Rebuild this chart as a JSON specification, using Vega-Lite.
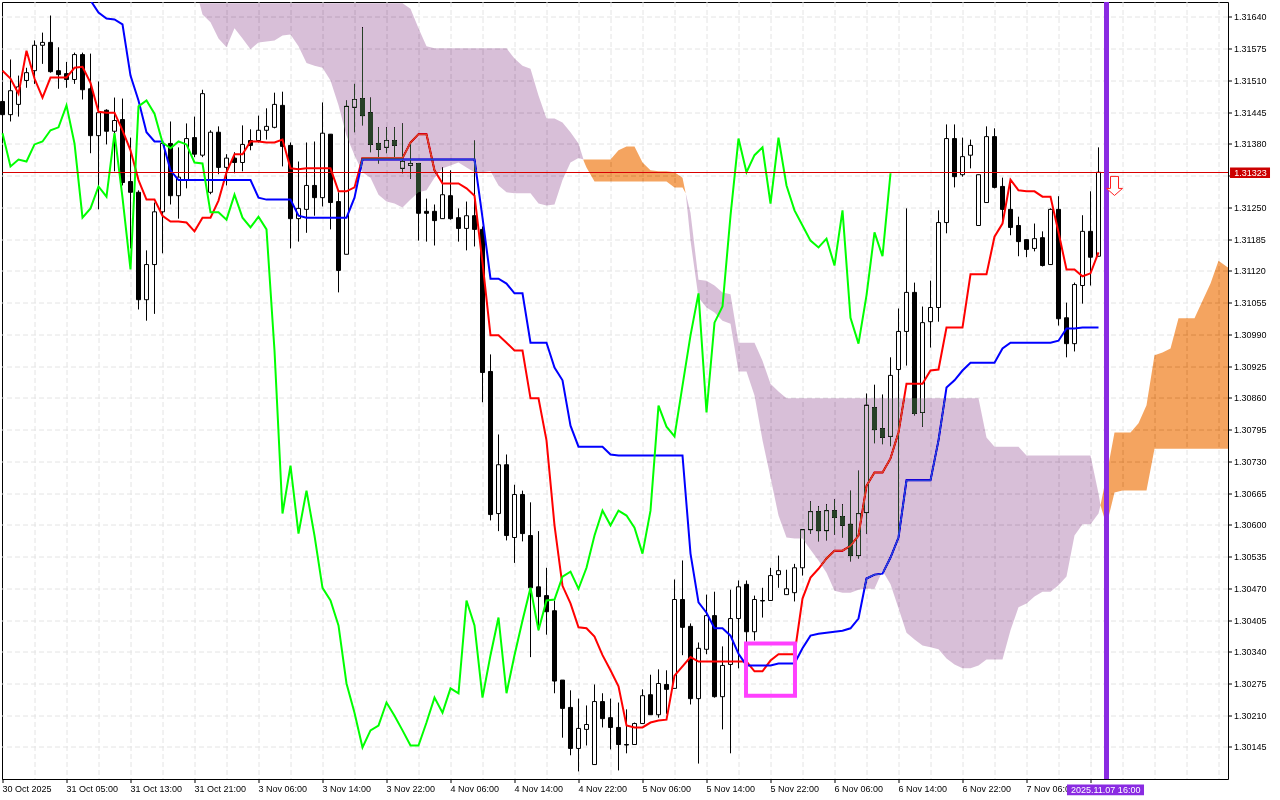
{
  "$schema": "https://vega.github.io/schema/vega-lite/v6.json",
  "width": 1226,
  "height": 777,
  "padding": {"left": 2, "top": 2, "right": 52, "bottom": 21},
  "autosize": "none",
  "background": "white",
  "config": {
    "view": {"stroke": "black", "strokeWidth": 1},
    "font": "Liberation Sans"
  },
  "datasets": {
    "candles": [
      {"i":0,"o":1.31468,"h":1.31480,"l":1.31429,"c":1.31441},
      {"i":1,"o":1.31441,"h":1.31554,"l":1.31427,"c":1.31490},
      {"i":2,"o":1.31462,"h":1.31521,"l":1.31437,"c":1.31498},
      {"i":3,"o":1.31511,"h":1.31537,"l":1.31496,"c":1.31527},
      {"i":4,"o":1.31531,"h":1.31593,"l":1.31504,"c":1.31583},
      {"i":5,"o":1.31583,"h":1.31609,"l":1.31545,"c":1.31589},
      {"i":6,"o":1.31589,"h":1.31644,"l":1.31527,"c":1.31529},
      {"i":7,"o":1.31531,"h":1.31579,"l":1.31494,"c":1.31523},
      {"i":8,"o":1.31525,"h":1.31549,"l":1.31496,"c":1.31513},
      {"i":9,"o":1.31513,"h":1.31568,"l":1.31504,"c":1.31564},
      {"i":10,"o":1.31564,"h":1.31568,"l":1.31472,"c":1.31492},
      {"i":11,"o":1.31494,"h":1.31566,"l":1.31362,"c":1.31398},
      {"i":12,"o":1.31398,"h":1.31509,"l":1.31247,"c":1.31445},
      {"i":13,"o":1.31450,"h":1.31452,"l":1.31380,"c":1.31407},
      {"i":14,"o":1.31407,"h":1.31476,"l":1.31325,"c":1.31429},
      {"i":15,"o":1.31431,"h":1.31474,"l":1.31296,"c":1.31302},
      {"i":16,"o":1.31304,"h":1.31394,"l":1.31167,"c":1.31282},
      {"i":17,"o":1.31282,"h":1.31286,"l":1.31042,"c":1.31062},
      {"i":18,"o":1.31062,"h":1.31163,"l":1.31019,"c":1.31134},
      {"i":19,"o":1.31134,"h":1.31261,"l":1.31033,"c":1.31242},
      {"i":20,"o":1.31242,"h":1.31388,"l":1.31157,"c":1.31382},
      {"i":21,"o":1.31382,"h":1.31427,"l":1.31257,"c":1.31275},
      {"i":22,"o":1.31275,"h":1.31374,"l":1.31228,"c":1.31313},
      {"i":23,"o":1.31307,"h":1.31423,"l":1.31290,"c":1.31392},
      {"i":24,"o":1.31394,"h":1.31437,"l":1.31354,"c":1.31360},
      {"i":25,"o":1.31358,"h":1.31492,"l":1.31354,"c":1.31484},
      {"i":26,"o":1.31282,"h":1.31409,"l":1.31278,"c":1.31405},
      {"i":27,"o":1.31405,"h":1.31417,"l":1.31319,"c":1.31333},
      {"i":28,"o":1.31333,"h":1.31360,"l":1.31296,"c":1.31352},
      {"i":29,"o":1.31352,"h":1.31364,"l":1.31321,"c":1.31343},
      {"i":30,"o":1.31343,"h":1.31419,"l":1.31325,"c":1.31380},
      {"i":31,"o":1.31388,"h":1.31411,"l":1.31368,"c":1.31378},
      {"i":32,"o":1.31388,"h":1.31439,"l":1.31384,"c":1.31409},
      {"i":33,"o":1.31409,"h":1.31454,"l":1.31390,"c":1.31417},
      {"i":34,"o":1.31415,"h":1.31486,"l":1.31413,"c":1.31462},
      {"i":35,"o":1.31460,"h":1.31488,"l":1.31335,"c":1.31376},
      {"i":36,"o":1.31378,"h":1.31384,"l":1.31167,"c":1.31228},
      {"i":37,"o":1.31228,"h":1.31345,"l":1.31181,"c":1.31249},
      {"i":38,"o":1.31247,"h":1.31384,"l":1.31199,"c":1.31296},
      {"i":39,"o":1.31296,"h":1.31386,"l":1.31234,"c":1.31271},
      {"i":40,"o":1.31271,"h":1.31466,"l":1.31253,"c":1.31403},
      {"i":41,"o":1.31401,"h":1.31401,"l":1.31206,"c":1.31261},
      {"i":42,"o":1.31263,"h":1.31282,"l":1.31077,"c":1.31122},
      {"i":43,"o":1.31155,"h":1.31470,"l":1.31155,"c":1.31458},
      {"i":44,"o":1.31456,"h":1.31504,"l":1.31405,"c":1.31472},
      {"i":45,"o":1.31474,"h":1.31620,"l":1.31419,"c":1.31439},
      {"i":46,"o":1.31445,"h":1.31476,"l":1.31364,"c":1.31380},
      {"i":47,"o":1.31382,"h":1.31415,"l":1.31341,"c":1.31370},
      {"i":48,"o":1.31374,"h":1.31415,"l":1.31362,"c":1.31388},
      {"i":49,"o":1.31388,"h":1.31415,"l":1.31352,"c":1.31378},
      {"i":50,"o":1.31331,"h":1.31423,"l":1.31321,"c":1.31345},
      {"i":51,"o":1.31337,"h":1.31382,"l":1.31310,"c":1.31341},
      {"i":52,"o":1.31341,"h":1.31341,"l":1.31183,"c":1.31239},
      {"i":53,"o":1.31243,"h":1.31269,"l":1.31181,"c":1.31239},
      {"i":54,"o":1.31243,"h":1.31257,"l":1.31173,"c":1.31224},
      {"i":55,"o":1.31228,"h":1.31333,"l":1.31228,"c":1.31277},
      {"i":56,"o":1.31275,"h":1.31327,"l":1.31226,"c":1.31228},
      {"i":57,"o":1.31230,"h":1.31249,"l":1.31181,"c":1.31208},
      {"i":58,"o":1.31208,"h":1.31263,"l":1.31163,"c":1.31234},
      {"i":59,"o":1.31234,"h":1.31388,"l":1.31171,"c":1.31206},
      {"i":60,"o":1.31206,"h":1.31212,"l":1.30852,"c":1.30913},
      {"i":61,"o":1.30915,"h":1.30950,"l":1.30610,"c":1.30622},
      {"i":62,"o":1.30624,"h":1.30786,"l":1.30588,"c":1.30724},
      {"i":63,"o":1.30724,"h":1.30745,"l":1.30569,"c":1.30579},
      {"i":64,"o":1.30575,"h":1.30683,"l":1.30523,"c":1.30663},
      {"i":65,"o":1.30663,"h":1.30671,"l":1.30567,"c":1.30583},
      {"i":66,"o":1.30579,"h":1.30647,"l":1.30330,"c":1.30472},
      {"i":67,"o":1.30474,"h":1.30588,"l":1.30385,"c":1.30454},
      {"i":68,"o":1.30456,"h":1.30513,"l":1.30376,"c":1.30423},
      {"i":69,"o":1.30425,"h":1.30446,"l":1.30256,"c":1.30281},
      {"i":70,"o":1.30283,"h":1.30283,"l":1.30165,"c":1.30225},
      {"i":71,"o":1.30227,"h":1.30262,"l":1.30129,"c":1.30143},
      {"i":72,"o":1.30143,"h":1.30245,"l":1.30096,"c":1.30184},
      {"i":73,"o":1.30182,"h":1.30231,"l":1.30149,"c":1.30192},
      {"i":74,"o":1.30110,"h":1.30274,"l":1.30110,"c":1.30239},
      {"i":75,"o":1.30239,"h":1.30256,"l":1.30186,"c":1.30204},
      {"i":76,"o":1.30206,"h":1.30245,"l":1.30141,"c":1.30186},
      {"i":77,"o":1.30186,"h":1.30237,"l":1.30098,"c":1.30151},
      {"i":78,"o":1.30151,"h":1.30223,"l":1.30133,"c":1.30150},
      {"i":79,"o":1.30151,"h":1.30196,"l":1.30151,"c":1.30194},
      {"i":80,"o":1.30194,"h":1.30264,"l":1.30194,"c":1.30251},
      {"i":81,"o":1.30253,"h":1.30294,"l":1.30212,"c":1.30212},
      {"i":82,"o":1.30212,"h":1.30305,"l":1.30206,"c":1.30276},
      {"i":83,"o":1.30274,"h":1.30303,"l":1.30214,"c":1.30264},
      {"i":84,"o":1.30266,"h":1.30489,"l":1.30266,"c":1.30448},
      {"i":85,"o":1.30448,"h":1.30528,"l":1.30334,"c":1.30391},
      {"i":86,"o":1.30393,"h":1.30399,"l":1.30233,"c":1.30245},
      {"i":87,"o":1.30245,"h":1.30360,"l":1.30112,"c":1.30348},
      {"i":88,"o":1.30346,"h":1.30458,"l":1.30336,"c":1.30415},
      {"i":89,"o":1.30415,"h":1.30464,"l":1.30247,"c":1.30249},
      {"i":90,"o":1.30249,"h":1.30352,"l":1.30182,"c":1.30313},
      {"i":91,"o":1.30315,"h":1.30468,"l":1.30133,"c":1.30409},
      {"i":92,"o":1.30409,"h":1.30487,"l":1.30307,"c":1.30474},
      {"i":93,"o":1.30479,"h":1.30487,"l":1.30317,"c":1.30382},
      {"i":94,"o":1.30382,"h":1.30456,"l":1.30364,"c":1.30448},
      {"i":95,"o":1.30446,"h":1.30472,"l":1.30411,"c":1.30445},
      {"i":96,"o":1.30446,"h":1.30513,"l":1.30446,"c":1.30497},
      {"i":97,"o":1.30499,"h":1.30538,"l":1.30472,"c":1.30507},
      {"i":98,"o":1.30458,"h":1.30509,"l":1.30458,"c":1.30470},
      {"i":99,"o":1.30462,"h":1.30521,"l":1.30444,"c":1.30513},
      {"i":100,"o":1.30513,"h":1.30591,"l":1.30497,"c":1.30591},
      {"i":101,"o":1.30591,"h":1.30649,"l":1.30583,"c":1.30628},
      {"i":102,"o":1.30628,"h":1.30639,"l":1.30567,"c":1.30589},
      {"i":103,"o":1.30589,"h":1.30643,"l":1.30569,"c":1.30630},
      {"i":104,"o":1.30630,"h":1.30653,"l":1.30581,"c":1.30616},
      {"i":105,"o":1.30618,"h":1.30643,"l":1.30575,"c":1.30600},
      {"i":106,"o":1.30602,"h":1.30671,"l":1.30526,"c":1.30538},
      {"i":107,"o":1.30538,"h":1.30712,"l":1.30532,"c":1.30624},
      {"i":108,"o":1.30626,"h":1.30870,"l":1.30583,"c":1.30846},
      {"i":109,"o":1.30841,"h":1.30888,"l":1.30768,"c":1.30796},
      {"i":110,"o":1.30798,"h":1.30868,"l":1.30766,"c":1.30780},
      {"i":111,"o":1.30782,"h":1.30944,"l":1.30762,"c":1.30907},
      {"i":112,"o":1.30919,"h":1.31044,"l":1.30585,"c":1.30997},
      {"i":113,"o":1.30997,"h":1.31249,"l":1.30927,"c":1.31077},
      {"i":114,"o":1.31077,"h":1.31097,"l":1.30825,"c":1.30829},
      {"i":115,"o":1.30831,"h":1.31048,"l":1.30802,"c":1.31015},
      {"i":116,"o":1.31017,"h":1.31101,"l":1.30964,"c":1.31046},
      {"i":117,"o":1.31046,"h":1.31245,"l":1.31017,"c":1.31220},
      {"i":118,"o":1.31220,"h":1.31421,"l":1.31198,"c":1.31392},
      {"i":119,"o":1.31392,"h":1.31421,"l":1.31292,"c":1.31314},
      {"i":120,"o":1.31318,"h":1.31394,"l":1.31314,"c":1.31355},
      {"i":121,"o":1.31358,"h":1.31390,"l":1.31331,"c":1.31378},
      {"i":122,"o":1.31214,"h":1.31318,"l":1.31214,"c":1.31318},
      {"i":123,"o":1.31261,"h":1.31417,"l":1.31261,"c":1.31396},
      {"i":124,"o":1.31396,"h":1.31413,"l":1.31290,"c":1.31292},
      {"i":125,"o":1.31294,"h":1.31312,"l":1.31218,"c":1.31247},
      {"i":126,"o":1.31247,"h":1.31306,"l":1.31194,"c":1.31210},
      {"i":127,"o":1.31214,"h":1.31232,"l":1.31151,"c":1.31181},
      {"i":128,"o":1.31185,"h":1.31185,"l":1.31149,"c":1.31165},
      {"i":129,"o":1.31167,"h":1.31218,"l":1.31161,"c":1.31187},
      {"i":130,"o":1.31189,"h":1.31202,"l":1.31130,"c":1.31132},
      {"i":131,"o":1.31134,"h":1.31249,"l":1.31134,"c":1.31247},
      {"i":132,"o":1.31247,"h":1.31274,"l":1.31009,"c":1.31023},
      {"i":133,"o":1.31025,"h":1.31056,"l":1.30944,"c":1.30972},
      {"i":134,"o":1.30972,"h":1.31097,"l":1.30956,"c":1.31093},
      {"i":135,"o":1.31091,"h":1.31235,"l":1.31054,"c":1.31202},
      {"i":136,"o":1.31202,"h":1.31284,"l":1.31091,"c":1.31149},
      {"i":137,"o":1.31151,"h":1.31374,"l":1.31151,"c":1.31323}
    ],
    "ichimoku": [
      {"i":0,"tenkan":1.31531,"chikou":1.31403},
      {"i":1,"tenkan":1.31515,"chikou":1.31335},
      {"i":2,"tenkan":1.31484,"chikou":1.31349},
      {"i":3,"tenkan":1.31572,"chikou":1.31345},
      {"i":4,"tenkan":1.31515,"chikou":1.31380},
      {"i":5,"tenkan":1.31476,"chikou":1.31386},
      {"i":6,"tenkan":1.31517,"chikou":1.31409},
      {"i":7,"tenkan":1.31517,"chikou":1.31415},
      {"i":8,"tenkan":1.31517,"chikou":1.31460},
      {"i":9,"tenkan":1.31537,"chikou":1.31382},
      {"i":10,"tenkan":1.31539,"chikou":1.31230},
      {"i":11,"tenkan":1.31506,"kijun":1.31675,"chikou":1.31249},
      {"i":12,"tenkan":1.31447,"kijun":1.31650,"chikou":1.31294},
      {"i":13,"tenkan":1.31445,"kijun":1.31638,"chikou":1.31273},
      {"i":14,"tenkan":1.31445,"kijun":1.31636,"chikou":1.31403},
      {"i":15,"tenkan":1.31409,"kijun":1.31626,"chikou":1.31271},
      {"i":16,"tenkan":1.31368,"kijun":1.31521,"chikou":1.31124},
      {"i":17,"tenkan":1.31307,"kijun":1.31470,"chikou":1.31458},
      {"i":18,"tenkan":1.31267,"kijun":1.31405,"chikou":1.31470},
      {"i":19,"tenkan":1.31267,"kijun":1.31386,"chikou":1.31443},
      {"i":20,"tenkan":1.31234,"kijun":1.31386,"chikou":1.31384},
      {"i":21,"tenkan":1.31222,"kijun":1.31327,"chikou":1.31372},
      {"i":22,"tenkan":1.31222,"kijun":1.31307,"chikou":1.31386},
      {"i":23,"tenkan":1.31220,"kijun":1.31307,"chikou":1.31380},
      {"i":24,"tenkan":1.31202,"kijun":1.31307,"chikou":1.31343},
      {"i":25,"tenkan":1.31230,"kijun":1.31307,"chikou":1.31341},
      {"i":26,"tenkan":1.31230,"kijun":1.31307,"chikou":1.31241},
      {"i":27,"tenkan":1.31265,"kijun":1.31307,"chikou":1.31241},
      {"i":28,"tenkan":1.31323,"kijun":1.31307,"chikou":1.31226},
      {"i":29,"tenkan":1.31360,"kijun":1.31307,"chikou":1.31277},
      {"i":30,"tenkan":1.31360,"kijun":1.31307,"chikou":1.31230},
      {"i":31,"tenkan":1.31386,"kijun":1.31307,"chikou":1.31210},
      {"i":32,"tenkan":1.31386,"kijun":1.31271,"chikou":1.31232},
      {"i":33,"tenkan":1.31384,"kijun":1.31267,"chikou":1.31206},
      {"i":34,"tenkan":1.31384,"kijun":1.31267,"chikou":1.30958},
      {"i":35,"tenkan":1.31390,"kijun":1.31267,"chikou":1.30624},
      {"i":36,"tenkan":1.31331,"kijun":1.31267,"chikou":1.30722},
      {"i":37,"tenkan":1.31329,"kijun":1.31234,"chikou":1.30583},
      {"i":38,"tenkan":1.31331,"kijun":1.31230,"chikou":1.30671},
      {"i":39,"tenkan":1.31331,"kijun":1.31230,"chikou":1.30579},
      {"i":40,"tenkan":1.31331,"kijun":1.31230,"chikou":1.30472},
      {"i":41,"tenkan":1.31331,"kijun":1.31230,"chikou":1.30446},
      {"i":42,"tenkan":1.31284,"kijun":1.31230,"chikou":1.30395},
      {"i":43,"tenkan":1.31284,"kijun":1.31230,"chikou":1.30276},
      {"i":44,"tenkan":1.31292,"kijun":1.31271,"chikou":1.30216},
      {"i":45,"tenkan":1.31352,"kijun":1.31349,"chikou":1.30145},
      {"i":46,"tenkan":1.31352,"kijun":1.31349,"chikou":1.30180},
      {"i":47,"tenkan":1.31352,"kijun":1.31349,"chikou":1.30190},
      {"i":48,"tenkan":1.31352,"kijun":1.31349,"chikou":1.30237},
      {"i":49,"tenkan":1.31352,"kijun":1.31349,"chikou":1.30210},
      {"i":50,"tenkan":1.31352,"kijun":1.31349,"chikou":1.30180},
      {"i":51,"tenkan":1.31384,"kijun":1.31349,"chikou":1.30149},
      {"i":52,"tenkan":1.31401,"kijun":1.31349,"chikou":1.30149},
      {"i":53,"tenkan":1.31401,"kijun":1.31349,"chikou":1.30196},
      {"i":54,"tenkan":1.31327,"kijun":1.31349,"chikou":1.30247},
      {"i":55,"tenkan":1.31300,"kijun":1.31349,"chikou":1.30216},
      {"i":56,"tenkan":1.31300,"kijun":1.31349,"chikou":1.30266},
      {"i":57,"tenkan":1.31300,"kijun":1.31349,"chikou":1.30256},
      {"i":58,"tenkan":1.31290,"kijun":1.31349,"chikou":1.30446},
      {"i":59,"tenkan":1.31275,"kijun":1.31349,"chikou":1.30395},
      {"i":60,"tenkan":1.31138,"kijun":1.31230,"chikou":1.30247},
      {"i":61,"tenkan":1.30989,"kijun":1.31105,"chikou":1.30334},
      {"i":62,"tenkan":1.30989,"kijun":1.31105,"chikou":1.30411},
      {"i":63,"tenkan":1.30974,"kijun":1.31095,"chikou":1.30256},
      {"i":64,"tenkan":1.30958,"kijun":1.31075,"chikou":1.30334},
      {"i":65,"tenkan":1.30958,"kijun":1.31075,"chikou":1.30405},
      {"i":66,"tenkan":1.30860,"kijun":1.30974,"chikou":1.30472},
      {"i":67,"tenkan":1.30860,"kijun":1.30974,"chikou":1.30385},
      {"i":68,"tenkan":1.30774,"kijun":1.30974,"chikou":1.30446},
      {"i":69,"tenkan":1.30600,"kijun":1.30923,"chikou":1.30448},
      {"i":70,"tenkan":1.30476,"kijun":1.30897,"chikou":1.30495},
      {"i":71,"tenkan":1.30440,"kijun":1.30804,"chikou":1.30505},
      {"i":72,"tenkan":1.30391,"kijun":1.30761,"chikou":1.30470},
      {"i":73,"tenkan":1.30389,"kijun":1.30761,"chikou":1.30513},
      {"i":74,"tenkan":1.30372,"kijun":1.30761,"chikou":1.30579},
      {"i":75,"tenkan":1.30334,"kijun":1.30761,"chikou":1.30630},
      {"i":76,"tenkan":1.30303,"kijun":1.30745,"chikou":1.30600},
      {"i":77,"tenkan":1.30270,"kijun":1.30743,"chikou":1.30630},
      {"i":78,"tenkan":1.30190,"kijun":1.30743,"chikou":1.30620},
      {"i":79,"tenkan":1.30186,"kijun":1.30743,"chikou":1.30595},
      {"i":80,"tenkan":1.30186,"kijun":1.30743,"chikou":1.30542},
      {"i":81,"tenkan":1.30196,"kijun":1.30743,"chikou":1.30630},
      {"i":82,"tenkan":1.30200,"kijun":1.30743,"chikou":1.30845},
      {"i":83,"tenkan":1.30202,"kijun":1.30743,"chikou":1.30802},
      {"i":84,"tenkan":1.30292,"kijun":1.30743,"chikou":1.30782},
      {"i":85,"tenkan":1.30311,"kijun":1.30743,"chikou":1.30886},
      {"i":86,"tenkan":1.30330,"kijun":1.30542,"chikou":1.30989},
      {"i":87,"tenkan":1.30321,"kijun":1.30442,"chikou":1.31075},
      {"i":88,"tenkan":1.30321,"kijun":1.30421,"chikou":1.30831},
      {"i":89,"tenkan":1.30321,"kijun":1.30389,"chikou":1.31015},
      {"i":90,"tenkan":1.30321,"kijun":1.30389,"chikou":1.31048},
      {"i":91,"tenkan":1.30321,"kijun":1.30374,"chikou":1.31234},
      {"i":92,"tenkan":1.30321,"kijun":1.30337,"chikou":1.31392},
      {"i":93,"tenkan":1.30321,"kijun":1.30313,"chikou":1.31323},
      {"i":94,"tenkan":1.30301,"kijun":1.30313,"chikou":1.31358},
      {"i":95,"tenkan":1.30301,"kijun":1.30313,"chikou":1.31374},
      {"i":96,"tenkan":1.30323,"kijun":1.30313,"chikou":1.31259},
      {"i":97,"tenkan":1.30336,"kijun":1.30317,"chikou":1.31394},
      {"i":98,"tenkan":1.30336,"kijun":1.30317,"chikou":1.31296},
      {"i":99,"tenkan":1.30336,"kijun":1.30317,"chikou":1.31245},
      {"i":100,"tenkan":1.30450,"kijun":1.30348,"chikou":1.31214},
      {"i":101,"tenkan":1.30493,"kijun":1.30374,"chikou":1.31183},
      {"i":102,"tenkan":1.30511,"kijun":1.30378,"chikou":1.31169},
      {"i":103,"tenkan":1.30532,"kijun":1.30380,"chikou":1.31187},
      {"i":104,"tenkan":1.30548,"kijun":1.30382,"chikou":1.31132},
      {"i":105,"tenkan":1.30548,"kijun":1.30384,"chikou":1.31245},
      {"i":106,"tenkan":1.30558,"kijun":1.30389,"chikou":1.31025},
      {"i":107,"tenkan":1.30579,"kijun":1.30409,"chikou":1.30972},
      {"i":108,"tenkan":1.30681,"kijun":1.30491,"chikou":1.31071},
      {"i":109,"tenkan":1.30708,"kijun":1.30499,"chikou":1.31200},
      {"i":110,"tenkan":1.30708,"kijun":1.30501,"chikou":1.31151},
      {"i":111,"tenkan":1.30737,"kijun":1.30534,"chikou":1.31321},
      {"i":112,"tenkan":1.30790,"kijun":1.30575},
      {"i":113,"tenkan":1.30890,"kijun":1.30692},
      {"i":114,"tenkan":1.30890,"kijun":1.30692},
      {"i":115,"tenkan":1.30890,"kijun":1.30692},
      {"i":116,"tenkan":1.30917,"kijun":1.30692},
      {"i":117,"tenkan":1.30919,"kijun":1.30774},
      {"i":118,"tenkan":1.31005,"kijun":1.30882},
      {"i":119,"tenkan":1.31005,"kijun":1.30897},
      {"i":120,"tenkan":1.31005,"kijun":1.30917},
      {"i":121,"tenkan":1.31114,"kijun":1.30933},
      {"i":122,"tenkan":1.31114,"kijun":1.30933},
      {"i":123,"tenkan":1.31114,"kijun":1.30933},
      {"i":124,"tenkan":1.31191,"kijun":1.30933},
      {"i":125,"tenkan":1.31218,"kijun":1.30962},
      {"i":126,"tenkan":1.31308,"kijun":1.30974},
      {"i":127,"tenkan":1.31286,"kijun":1.30974},
      {"i":128,"tenkan":1.31284,"kijun":1.30974},
      {"i":129,"tenkan":1.31284,"kijun":1.30974},
      {"i":130,"tenkan":1.31273,"kijun":1.30974},
      {"i":131,"tenkan":1.31273,"kijun":1.30974},
      {"i":132,"tenkan":1.31200,"kijun":1.30978},
      {"i":133,"tenkan":1.31124,"kijun":1.31003},
      {"i":134,"tenkan":1.31124,"kijun":1.31003},
      {"i":135,"tenkan":1.31110,"kijun":1.31005},
      {"i":136,"tenkan":1.31116,"kijun":1.31005},
      {"i":137,"tenkan":1.31159,"kijun":1.31005}
    ],
    "cloud": [
      {"span":"a","kind":"bear","i":24.625,"top":1.31669,"bottom":1.31669},
      {"span":"a","kind":"bear","i":25,"top":1.31669,"bottom":1.31646},
      {"span":"a","kind":"bear","i":26,"top":1.31669,"bottom":1.31630},
      {"span":"a","kind":"bear","i":27,"top":1.31669,"bottom":1.31597},
      {"span":"a","kind":"bear","i":28,"top":1.31669,"bottom":1.31579},
      {"span":"a","kind":"bear","i":29,"top":1.31669,"bottom":1.31618},
      {"span":"a","kind":"bear","i":30,"top":1.31669,"bottom":1.31597},
      {"span":"a","kind":"bear","i":31,"top":1.31669,"bottom":1.31575},
      {"span":"a","kind":"bear","i":32,"top":1.31669,"bottom":1.31589},
      {"span":"a","kind":"bear","i":33,"top":1.31669,"bottom":1.31591},
      {"span":"a","kind":"bear","i":34,"top":1.31669,"bottom":1.31593},
      {"span":"a","kind":"bear","i":35,"top":1.31669,"bottom":1.31603},
      {"span":"a","kind":"bear","i":36,"top":1.31669,"bottom":1.31605},
      {"span":"a","kind":"bear","i":37,"top":1.31669,"bottom":1.31581},
      {"span":"a","kind":"bear","i":38,"top":1.31669,"bottom":1.31547},
      {"span":"a","kind":"bear","i":39,"top":1.31669,"bottom":1.31541},
      {"span":"a","kind":"bear","i":40,"top":1.31669,"bottom":1.31537},
      {"span":"a","kind":"bear","i":41,"top":1.31669,"bottom":1.31511},
      {"span":"a","kind":"bear","i":42,"top":1.31669,"bottom":1.31460},
      {"span":"a","kind":"bear","i":43,"top":1.31669,"bottom":1.31398},
      {"span":"a","kind":"bear","i":44,"top":1.31669,"bottom":1.31358},
      {"span":"a","kind":"bear","i":45,"top":1.31669,"bottom":1.31323},
      {"span":"a","kind":"bear","i":46,"top":1.31669,"bottom":1.31312},
      {"span":"a","kind":"bear","i":47,"top":1.31669,"bottom":1.31277},
      {"span":"a","kind":"bear","i":48,"top":1.31669,"bottom":1.31263},
      {"span":"a","kind":"bear","i":49,"top":1.31669,"bottom":1.31259},
      {"span":"a","kind":"bear","i":50,"top":1.31669,"bottom":1.31251},
      {"span":"a","kind":"bear","i":51,"top":1.31658,"bottom":1.31267},
      {"span":"a","kind":"bear","i":52,"top":1.31618,"bottom":1.31282},
      {"span":"a","kind":"bear","i":53,"top":1.31581,"bottom":1.31286},
      {"span":"a","kind":"bear","i":54,"top":1.31577,"bottom":1.31312},
      {"span":"a","kind":"bear","i":55,"top":1.31577,"bottom":1.31331},
      {"span":"a","kind":"bear","i":56,"top":1.31577,"bottom":1.31337},
      {"span":"a","kind":"bear","i":57,"top":1.31577,"bottom":1.31343},
      {"span":"a","kind":"bear","i":58,"top":1.31577,"bottom":1.31333},
      {"span":"a","kind":"bear","i":59,"top":1.31577,"bottom":1.31323},
      {"span":"a","kind":"bear","i":60,"top":1.31577,"bottom":1.31323},
      {"span":"a","kind":"bear","i":61,"top":1.31577,"bottom":1.31325},
      {"span":"a","kind":"bear","i":62,"top":1.31577,"bottom":1.31296},
      {"span":"a","kind":"bear","i":63,"top":1.31577,"bottom":1.31282},
      {"span":"a","kind":"bear","i":64,"top":1.31556,"bottom":1.31280},
      {"span":"a","kind":"bear","i":65,"top":1.31541,"bottom":1.31280},
      {"span":"a","kind":"bear","i":66,"top":1.31535,"bottom":1.31280},
      {"span":"a","kind":"bear","i":67,"top":1.31480,"bottom":1.31259},
      {"span":"a","kind":"bear","i":68,"top":1.31433,"bottom":1.31255},
      {"span":"a","kind":"bear","i":69,"top":1.31433,"bottom":1.31257},
      {"span":"a","kind":"bear","i":70,"top":1.31425,"bottom":1.31307},
      {"span":"a","kind":"bear","i":71,"top":1.31405,"bottom":1.31343},
      {"span":"a","kind":"bear","i":72,"top":1.31382,"bottom":1.31352},
      {"span":"a","kind":"bear","i":72.625,"top":1.31349,"bottom":1.31349},
      {"span":"b","kind":"bull","i":72.625,"top":1.31349,"bottom":1.31347},
      {"span":"b","kind":"bull","i":73,"top":1.31349,"bottom":1.31333},
      {"span":"b","kind":"bull","i":74,"top":1.31349,"bottom":1.31304},
      {"span":"b","kind":"bull","i":75,"top":1.31349,"bottom":1.31304},
      {"span":"b","kind":"bull","i":76,"top":1.31349,"bottom":1.31304},
      {"span":"b","kind":"bull","i":77,"top":1.31368,"bottom":1.31304},
      {"span":"b","kind":"bull","i":78,"top":1.31376,"bottom":1.31304},
      {"span":"b","kind":"bull","i":79,"top":1.31376,"bottom":1.31304},
      {"span":"b","kind":"bull","i":80,"top":1.31343,"bottom":1.31304},
      {"span":"b","kind":"bull","i":81,"top":1.31327,"bottom":1.31304},
      {"span":"b","kind":"bull","i":82,"top":1.31325,"bottom":1.31304},
      {"span":"b","kind":"bull","i":83,"top":1.31325,"bottom":1.31304},
      {"span":"b","kind":"bull","i":84,"top":1.31323,"bottom":1.31292},
      {"span":"b","kind":"bull","i":85,"top":1.31312,"bottom":1.31292},
      {"span":"b","kind":"bull","i":85.4,"top":1.31280,"bottom":1.31280},
      {"span":"c","kind":"bear","i":85.4,"top":1.31280,"bottom":1.31280},
      {"span":"c","kind":"bear","i":86,"top":1.31240,"bottom":1.31183},
      {"span":"c","kind":"bear","i":87,"top":1.31103,"bottom":1.31066},
      {"span":"c","kind":"bear","i":88,"top":1.31101,"bottom":1.31046},
      {"span":"c","kind":"bear","i":89,"top":1.31091,"bottom":1.31036},
      {"span":"c","kind":"bear","i":90,"top":1.31077,"bottom":1.31019},
      {"span":"c","kind":"bear","i":91,"top":1.31073,"bottom":1.31013},
      {"span":"c","kind":"bear","i":92,"top":1.30974,"bottom":1.30915},
      {"span":"c","kind":"bear","i":93,"top":1.30974,"bottom":1.30915},
      {"span":"c","kind":"bear","i":94,"top":1.30974,"bottom":1.30866},
      {"span":"c","kind":"bear","i":95,"top":1.30937,"bottom":1.30774},
      {"span":"c","kind":"bear","i":96,"top":1.30890,"bottom":1.30698},
      {"span":"c","kind":"bear","i":97,"top":1.30874,"bottom":1.30620},
      {"span":"c","kind":"bear","i":98,"top":1.30860,"bottom":1.30575},
      {"span":"c","kind":"bear","i":99,"top":1.30860,"bottom":1.30573},
      {"span":"c","kind":"bear","i":100,"top":1.30860,"bottom":1.30573},
      {"span":"c","kind":"bear","i":101,"top":1.30860,"bottom":1.30550},
      {"span":"c","kind":"bear","i":102,"top":1.30860,"bottom":1.30528},
      {"span":"c","kind":"bear","i":103,"top":1.30860,"bottom":1.30503},
      {"span":"c","kind":"bear","i":104,"top":1.30860,"bottom":1.30466},
      {"span":"c","kind":"bear","i":105,"top":1.30860,"bottom":1.30462},
      {"span":"c","kind":"bear","i":106,"top":1.30860,"bottom":1.30462},
      {"span":"c","kind":"bear","i":107,"top":1.30860,"bottom":1.30468},
      {"span":"c","kind":"bear","i":108,"top":1.30860,"bottom":1.30470},
      {"span":"c","kind":"bear","i":109,"top":1.30860,"bottom":1.30470},
      {"span":"c","kind":"bear","i":110,"top":1.30860,"bottom":1.30507},
      {"span":"c","kind":"bear","i":111,"top":1.30860,"bottom":1.30479},
      {"span":"c","kind":"bear","i":112,"top":1.30860,"bottom":1.30430},
      {"span":"c","kind":"bear","i":113,"top":1.30860,"bottom":1.30380},
      {"span":"c","kind":"bear","i":114,"top":1.30860,"bottom":1.30366},
      {"span":"c","kind":"bear","i":115,"top":1.30860,"bottom":1.30354},
      {"span":"c","kind":"bear","i":116,"top":1.30860,"bottom":1.30350},
      {"span":"c","kind":"bear","i":117,"top":1.30860,"bottom":1.30346},
      {"span":"c","kind":"bear","i":118,"top":1.30860,"bottom":1.30327},
      {"span":"c","kind":"bear","i":119,"top":1.30860,"bottom":1.30315},
      {"span":"c","kind":"bear","i":120,"top":1.30860,"bottom":1.30307},
      {"span":"c","kind":"bear","i":121,"top":1.30860,"bottom":1.30307},
      {"span":"c","kind":"bear","i":122,"top":1.30860,"bottom":1.30313},
      {"span":"c","kind":"bear","i":123,"top":1.30780,"bottom":1.30325},
      {"span":"c","kind":"bear","i":124,"top":1.30761,"bottom":1.30325},
      {"span":"c","kind":"bear","i":125,"top":1.30761,"bottom":1.30325},
      {"span":"c","kind":"bear","i":126,"top":1.30761,"bottom":1.30385},
      {"span":"c","kind":"bear","i":127,"top":1.30761,"bottom":1.30432},
      {"span":"c","kind":"bear","i":128,"top":1.30743,"bottom":1.30440},
      {"span":"c","kind":"bear","i":129,"top":1.30743,"bottom":1.30454},
      {"span":"c","kind":"bear","i":130,"top":1.30743,"bottom":1.30464},
      {"span":"c","kind":"bear","i":131,"top":1.30743,"bottom":1.30464},
      {"span":"c","kind":"bear","i":132,"top":1.30743,"bottom":1.30477},
      {"span":"c","kind":"bear","i":133,"top":1.30743,"bottom":1.30495},
      {"span":"c","kind":"bear","i":134,"top":1.30743,"bottom":1.30579},
      {"span":"c","kind":"bear","i":135,"top":1.30743,"bottom":1.30602},
      {"span":"c","kind":"bear","i":136,"top":1.30743,"bottom":1.30602},
      {"span":"c","kind":"bear","i":137,"top":1.30665,"bottom":1.30624},
      {"span":"c","kind":"bear","i":137.25,"top":1.30641,"bottom":1.30641},
      {"span":"d","kind":"bull","i":137.25,"top":1.30641,"bottom":1.30641},
      {"span":"d","kind":"bull","i":138,"top":1.30702,"bottom":1.30600},
      {"span":"d","kind":"bull","i":139,"top":1.30790,"bottom":1.30667},
      {"span":"d","kind":"bull","i":140,"top":1.30790,"bottom":1.30671},
      {"span":"d","kind":"bull","i":141,"top":1.30790,"bottom":1.30671},
      {"span":"d","kind":"bull","i":142,"top":1.30809,"bottom":1.30671},
      {"span":"d","kind":"bull","i":143,"top":1.30846,"bottom":1.30671},
      {"span":"d","kind":"bull","i":144,"top":1.30948,"bottom":1.30757},
      {"span":"d","kind":"bull","i":145,"top":1.30954,"bottom":1.30757},
      {"span":"d","kind":"bull","i":146,"top":1.30962,"bottom":1.30757},
      {"span":"d","kind":"bull","i":147,"top":1.31024,"bottom":1.30757},
      {"span":"d","kind":"bull","i":148,"top":1.31024,"bottom":1.30757},
      {"span":"d","kind":"bull","i":149,"top":1.31024,"bottom":1.30757},
      {"span":"d","kind":"bull","i":150,"top":1.31060,"bottom":1.30757},
      {"span":"d","kind":"bull","i":151,"top":1.31095,"bottom":1.30757},
      {"span":"d","kind":"bull","i":152,"top":1.31142,"bottom":1.30757},
      {"span":"d","kind":"bull","i":153,"top":1.31130,"bottom":1.30757},
      {"span":"d","kind":"bull","i":153.19,"top":1.31128,"bottom":1.30757}
    ]
  },
  "encoding": {
    "x": {
      "field": "i",
      "type": "quantitative",
      "title": null,
      "scale": {"domain": [-0.0625, 153.1875], "nice": false, "zero": false, "padding": 0},
      "axis": {
        "values": [0,4,8,12,16,20,24,28,32,36,40,44,48,52,56,60,64,68,72,76,80,84,88,92,96,100,104,108,112,116,120,124,128,132,136,140,144,148,152],
        "tickCount": 100,
        "translate": 0,
        "domain": false,
        "labelExpr": "['30 Oct 2025','31 Oct 05:00','31 Oct 13:00','31 Oct 21:00','3 Nov 06:00','3 Nov 14:00','3 Nov 22:00','4 Nov 06:00','4 Nov 14:00','4 Nov 22:00','5 Nov 06:00','5 Nov 14:00','5 Nov 22:00','6 Nov 06:00','6 Nov 14:00','6 Nov 22:00','7 Nov 06:00'][datum.value/8] || ''",
        "labelAlign": "left",
        "labelBaseline": "top",
        "labelOverlap": false,
        "labelBound": false,
        "labelFlush": false,
        "labelFont": "Liberation Sans",
        "labelFontSize": 9,
        "labelColor": "black",
        "labelPadding": 2,
        "tickSize": 4,
        "tickColor": "black",
        "tickOpacity": {"condition": {"test": "datum.value % 8 !== 0 || datum.value > 136", "value": 0}, "value": 1},
        "grid": true,
        "gridColor": "#e4e4e4",
        "gridDash": [5, 3],
        "gridOpacity": {"condition": {"test": "datum.value === 0", "value": 0}, "value": 1}
      }
    }
  },
  "layer": [
    {
      "data": {"name": "candles"},
      "mark": {"type": "rule", "color": "black", "strokeWidth": 1},
      "encoding": {
        "y": {
          "field": "h",
          "type": "quantitative",
          "title": null,
          "scale": {"domain": [1.300804, 1.316717], "nice": false, "zero": false},
          "axis": {
            "orient": "right",
            "values": [1.30145,1.3021,1.30275,1.3034,1.30405,1.3047,1.30535,1.306,1.30665,1.3073,1.30795,1.3086,1.30925,1.3099,1.31055,1.3112,1.31185,1.3125,1.31315,1.3138,1.31445,1.3151,1.31575,1.3164],
            "tickCount": 100,
            "translate": 0,
            "domain": false,
            "format": ".5f",
            "labelExpr": "datum.label === '1.31315' ? '' : datum.label",
            "labelOverlap": false,
            "labelBound": false,
            "labelFlush": false,
            "labelFont": "Liberation Sans",
            "labelFontSize": 9,
            "labelColor": "black",
            "labelPadding": 2,
            "tickSize": 4,
            "tickColor": "black",
            "grid": true,
            "gridColor": "#e4e4e4",
            "gridDash": [5, 3]
          }
        },
        "y2": {"field": "l"}
      }
    },
    {
      "data": {"name": "candles"},
      "mark": {"type": "bar", "size": 4, "stroke": "black", "strokeWidth": 1},
      "encoding": {
        "y": {"field": "o", "type": "quantitative", "title": null, "scale": {"domain": [1.300804, 1.316717], "nice": false, "zero": false}},
        "y2": {"field": "c"},
        "fill": {"condition": {"test": "datum.c > datum.o", "value": "white"}, "value": "black"}
      }
    },
    {
      "data": {"name": "ichimoku"},
      "mark": {"type": "line", "color": "#ff0000", "strokeWidth": 2},
      "encoding": {
        "y": {"field": "tenkan", "type": "quantitative", "title": null, "scale": {"domain": [1.300804, 1.316717], "nice": false, "zero": false}}
      }
    },
    {
      "data": {"name": "ichimoku"},
      "mark": {"type": "line", "color": "#0000ff", "strokeWidth": 2, "clip": true},
      "encoding": {
        "y": {"field": "kijun", "type": "quantitative", "title": null, "scale": {"domain": [1.300804, 1.316717], "nice": false, "zero": false}}
      }
    },
    {
      "data": {"name": "cloud"},
      "mark": {"type": "area", "blend": "difference", "opacity": 1},
      "encoding": {
        "y": {"field": "top", "type": "quantitative", "title": null, "scale": {"domain": [1.300804, 1.316717], "nice": false, "zero": false}},
        "y2": {"field": "bottom"},
        "detail": {"field": "span"},
        "fill": {"field": "kind", "type": "nominal", "legend": null, "scale": {"domain": ["bear", "bull"], "range": ["#274027", "#0b5b9f"]}}
      }
    },
    {
      "data": {"name": "ichimoku"},
      "mark": {"type": "line", "color": "#00ff00", "strokeWidth": 2},
      "encoding": {
        "y": {"field": "chikou", "type": "quantitative", "title": null, "scale": {"domain": [1.300804, 1.316717], "nice": false, "zero": false}}
      }
    },
    {
      "data": {"values": [{"i": 0, "i2": 153.19, "price": 1.313225}]},
      "mark": {"type": "rule", "color": "#d80000", "strokeWidth": 1},
      "encoding": {
        "x2": {"field": "i2"},
        "y": {"field": "price", "type": "quantitative", "title": null, "scale": {"domain": [1.300804, 1.316717], "nice": false, "zero": false}}
      }
    },
    {
      "data": {"values": [{"i": 92.94, "i2": 99.06, "top": 1.30358, "bottom": 1.30251}]},
      "mark": {"type": "rect", "fill": "transparent", "stroke": "#ff40ff", "strokeWidth": 4},
      "encoding": {
        "x2": {"field": "i2"},
        "y": {"field": "top", "type": "quantitative", "title": null, "scale": {"domain": [1.300804, 1.316717], "nice": false, "zero": false}},
        "y2": {"field": "bottom"}
      }
    },
    {
      "data": {"values": [{"i": 138}]},
      "mark": {"type": "rule", "color": "#8a2be2", "strokeWidth": 5}
    },
    {
      "data": {"values": [{"i": 139, "price": 1.31295}]},
      "mark": {
        "type": "point",
        "shape": "M-0.5,-1.19L0.5,-1.19L0.5,0.31L1,0.31L0,1.19L-1,0.31L-0.5,0.31Z",
        "size": 256,
        "filled": true,
        "fill": "white",
        "stroke": "#ff2020",
        "strokeWidth": 1,
        "opacity": 1
      },
      "encoding": {
        "y": {"field": "price", "type": "quantitative", "title": null, "scale": {"domain": [1.300804, 1.316717], "nice": false, "zero": false}}
      }
    },
    {
      "data": {"values": [{"i": 153.44, "i2": 158.44, "top": 1.31333, "bottom": 1.31311}]},
      "mark": {"type": "rect", "color": "#cc0000", "clip": false},
      "encoding": {
        "x2": {"field": "i2"},
        "y": {"field": "top", "type": "quantitative", "title": null, "scale": {"domain": [1.300804, 1.316717], "nice": false, "zero": false}},
        "y2": {"field": "bottom"}
      }
    },
    {
      "data": {"values": [{"i": 133.06, "i2": 142.69, "top": 1.30069, "bottom": 1.30047}]},
      "mark": {"type": "rect", "color": "#8a2be2", "clip": false},
      "encoding": {
        "x2": {"field": "i2"},
        "y": {"field": "top", "type": "quantitative", "title": null, "scale": {"domain": [1.300804, 1.316717], "nice": false, "zero": false}},
        "y2": {"field": "bottom"}
      }
    },
    {
      "data": {"values": [
        {"i": 156, "price": 1.31322, "label": "1.31323"},
        {"i": 137.9, "price": 1.30058, "label": "2025.11.07 16:00"}
      ]},
      "mark": {"type": "text", "color": "white", "font": "Liberation Sans", "fontSize": 9, "align": "center", "baseline": "middle"},
      "encoding": {
        "y": {"field": "price", "type": "quantitative", "title": null, "scale": {"domain": [1.300804, 1.316717], "nice": false, "zero": false}},
        "text": {"field": "label"}
      }
    }
  ]
}
